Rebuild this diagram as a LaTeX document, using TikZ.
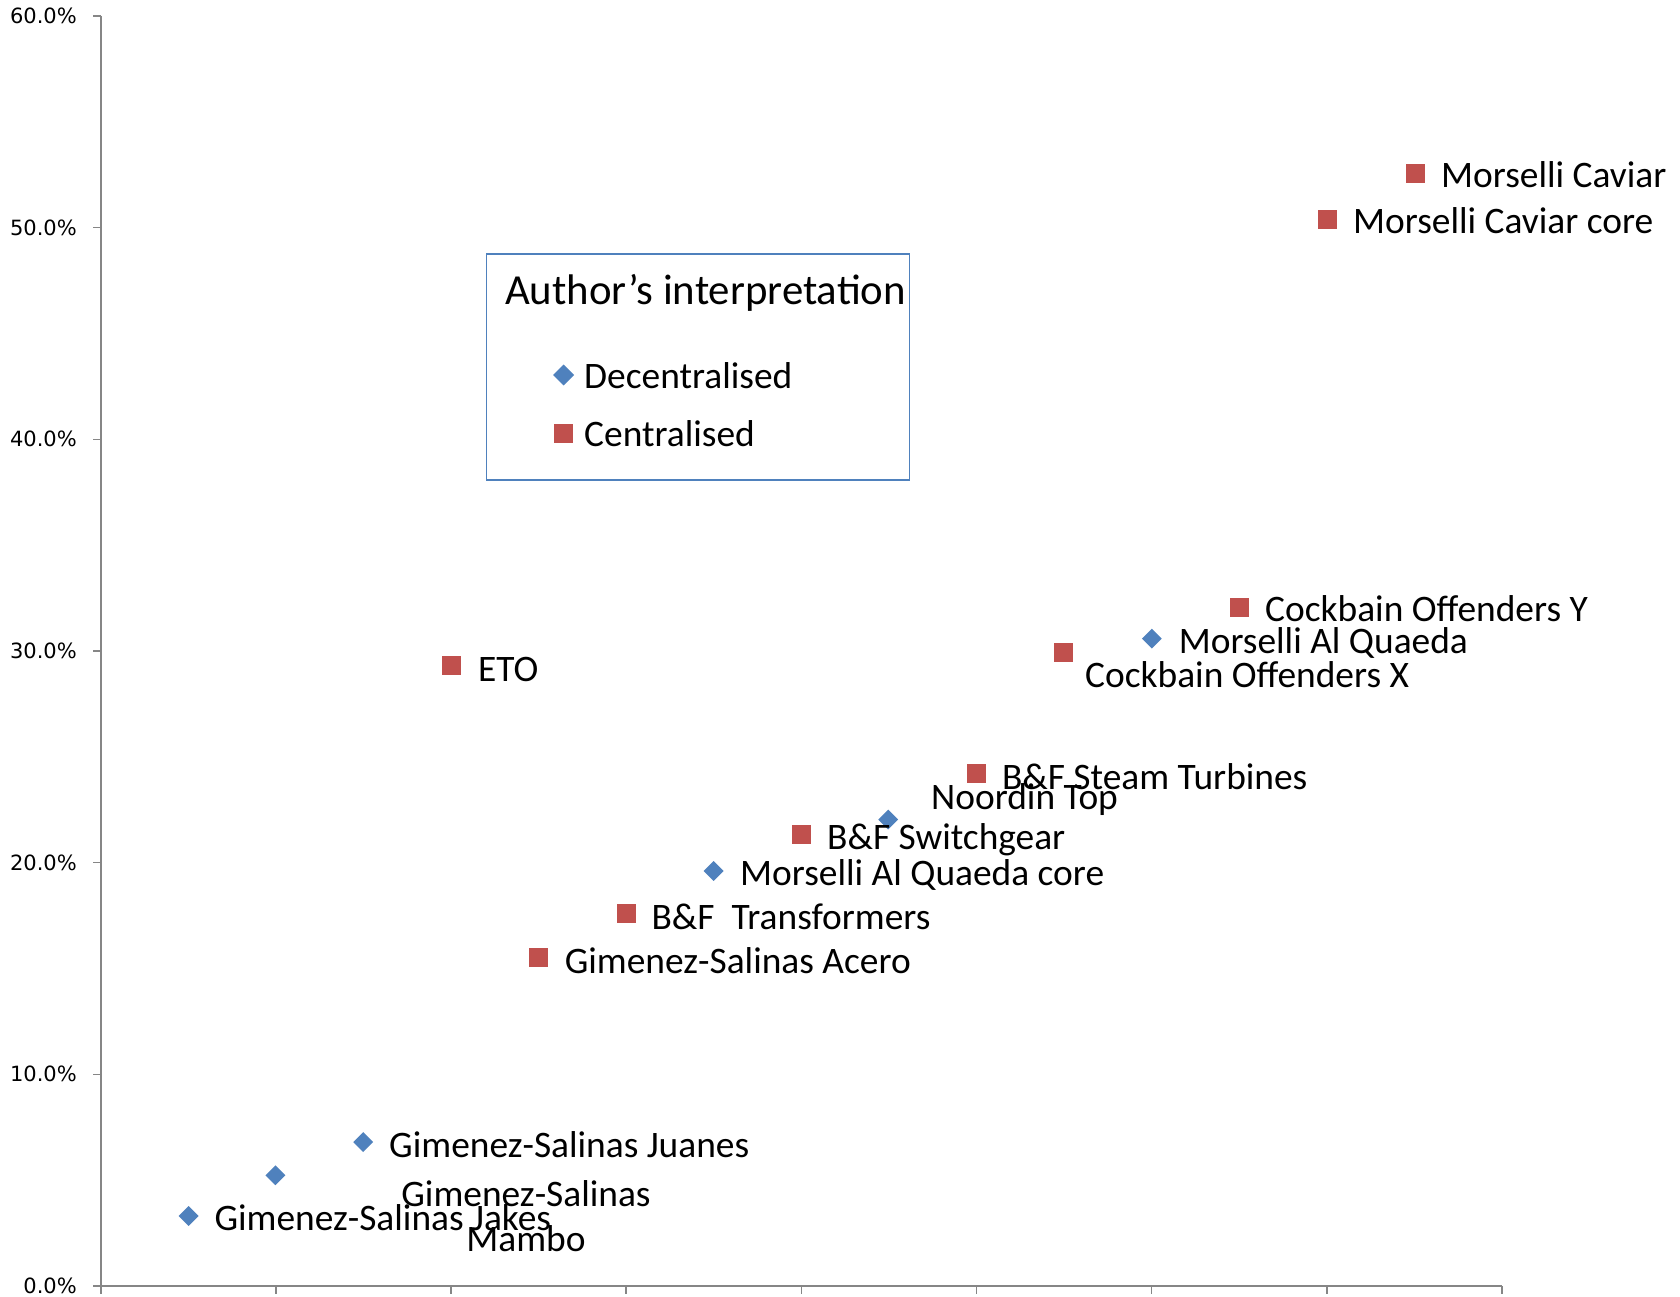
\documentclass[tikz,border=0pt]{standalone}
\usepackage{fontspec}
\setmainfont{Carlito}
\newfontfamily\axfont{DejaVu Sans}
\usetikzlibrary{shapes.geometric}
\definecolor{dblue}{HTML}{4F81BD}
\definecolor{cred}{HTML}{C0504D}
\definecolor{axgray}{HTML}{868686}
\tikzset{
  dia/.style={diamond, fill=dblue, inner sep=0pt, minimum size=20pt},
  sq/.style={rectangle, fill=cred, inner sep=0pt, minimum size=19pt},
  lbl/.style={anchor=west, inner sep=0pt, font=\fontsize{37.4}{45}\selectfont},
  ylab/.style={anchor=east, inner sep=0pt, font=\axfont\fontsize{21}{25}\selectfont},
  axline/.style={draw=axgray, line width=1.6pt}
}
\begin{document}
\begin{tikzpicture}[x=1pt,y=-1pt]
\useasboundingbox[fill=white] (0,0) rectangle (1680,1297);
% axes
\coordinate (ytop) at (100.7,16);
\coordinate (orig) at (100.7,1286);
\coordinate (xend) at (1502,1286);
\draw[axline] (ytop) -- (orig) -- (xend);
\foreach \i/\t in {0/0.0\%,1/10.0\%,2/20.0\%,3/30.0\%,4/40.0\%,5/50.0\%,6/60.0\%}{
  \draw[axline] (93,1286-211.67*\i) -- (100.7,1286-211.67*\i);
  \node[ylab] (yl\i) at (77,1286-211.67*\i) {\t};
}
\foreach \i in {0,...,8}{
  \draw[axline] (100.7+175.16*\i,1286) -- (100.7+175.16*\i,1294);
}
% legend
\node[draw=dblue, line width=1.3pt, minimum width=423pt, minimum height=226pt, inner sep=0pt] (leg) at (698,367) {};
\node[anchor=west, inner sep=0pt, font=\fontsize{42.8}{50}\selectfont] (legt) at (505,293) {Author’s interpretation};
\node[dia, minimum size=21pt] (legd) at (563.6,375) {};
\node[lbl] (legdl) at (584,376) {Decentralised};
\node[sq] (legs) at (563.6,433) {};
\node[lbl] (legsl) at (584,434) {Centralised};
% data
\node[sq] (mc) at (1415.3,173.6) {};
\node[lbl] (mcl) at (1441,175) {Morselli Caviar};
\node[sq] (mcc) at (1327.5,219.6) {};
\node[lbl] (mccl) at (1353,221) {Morselli Caviar core};
\node[sq] (coy) at (1239.6,607.5) {};
\node[lbl] (coyl) at (1265,609) {Cockbain Offenders Y};
\node[dia] (maq) at (1151.8,638.6) {};
\node[lbl] (maql) at (1178.6,642.5) {Morselli Al Quaeda};
\node[sq] (cox) at (1063.9,652.5) {};
\node[lbl] (coxl) at (1085,675) {Cockbain Offenders X};
\node[sq] (eto) at (451,665.3) {};
\node[lbl] (etol) at (478,669) {ETO};
\node[sq] (bst) at (976,773.5) {};
\node[lbl] (bstl) at (1001.8,776.5) {B\&F Steam Turbines};
\node[dia] (nt) at (888.2,819.6) {};
\node[lbl] (ntl) at (931,800) {Noordin Top};
\node[sq] (bsw) at (801.4,834.6) {};
\node[lbl] (bswl) at (827,839.5) {B\&F Switchgear};
\node[dia] (maqc) at (713.6,871) {};
\node[lbl] (maqcl) at (740,875) {Morselli Al Quaeda core};
\node[sq] (btr) at (626.8,913.9) {};
\node[lbl] (btrl) at (651.4,916.5) {B\&F\ \ Transformers};
\node[sq] (gsa) at (538.9,957.8) {};
\node[lbl] (gsal) at (564.6,960.5) {Gimenez-Salinas Acero};
\node[dia] (gsj) at (363.2,1142.1) {};
\node[lbl] (gsjl) at (389,1144.5) {Gimenez-Salinas Juanes};
\node[dia] (gsm) at (275.4,1175.3) {};
\node[inner sep=0pt, align=center, font=\fontsize{37.4}{45}\selectfont] (gsml) at (526,1216) {Gimenez-Salinas\\Mambo};
\node[dia] (gsk) at (188.6,1216) {};
\node[lbl] (gskl) at (214.3,1218) {Gimenez-Salinas Jakes};
\end{tikzpicture}
\end{document}
